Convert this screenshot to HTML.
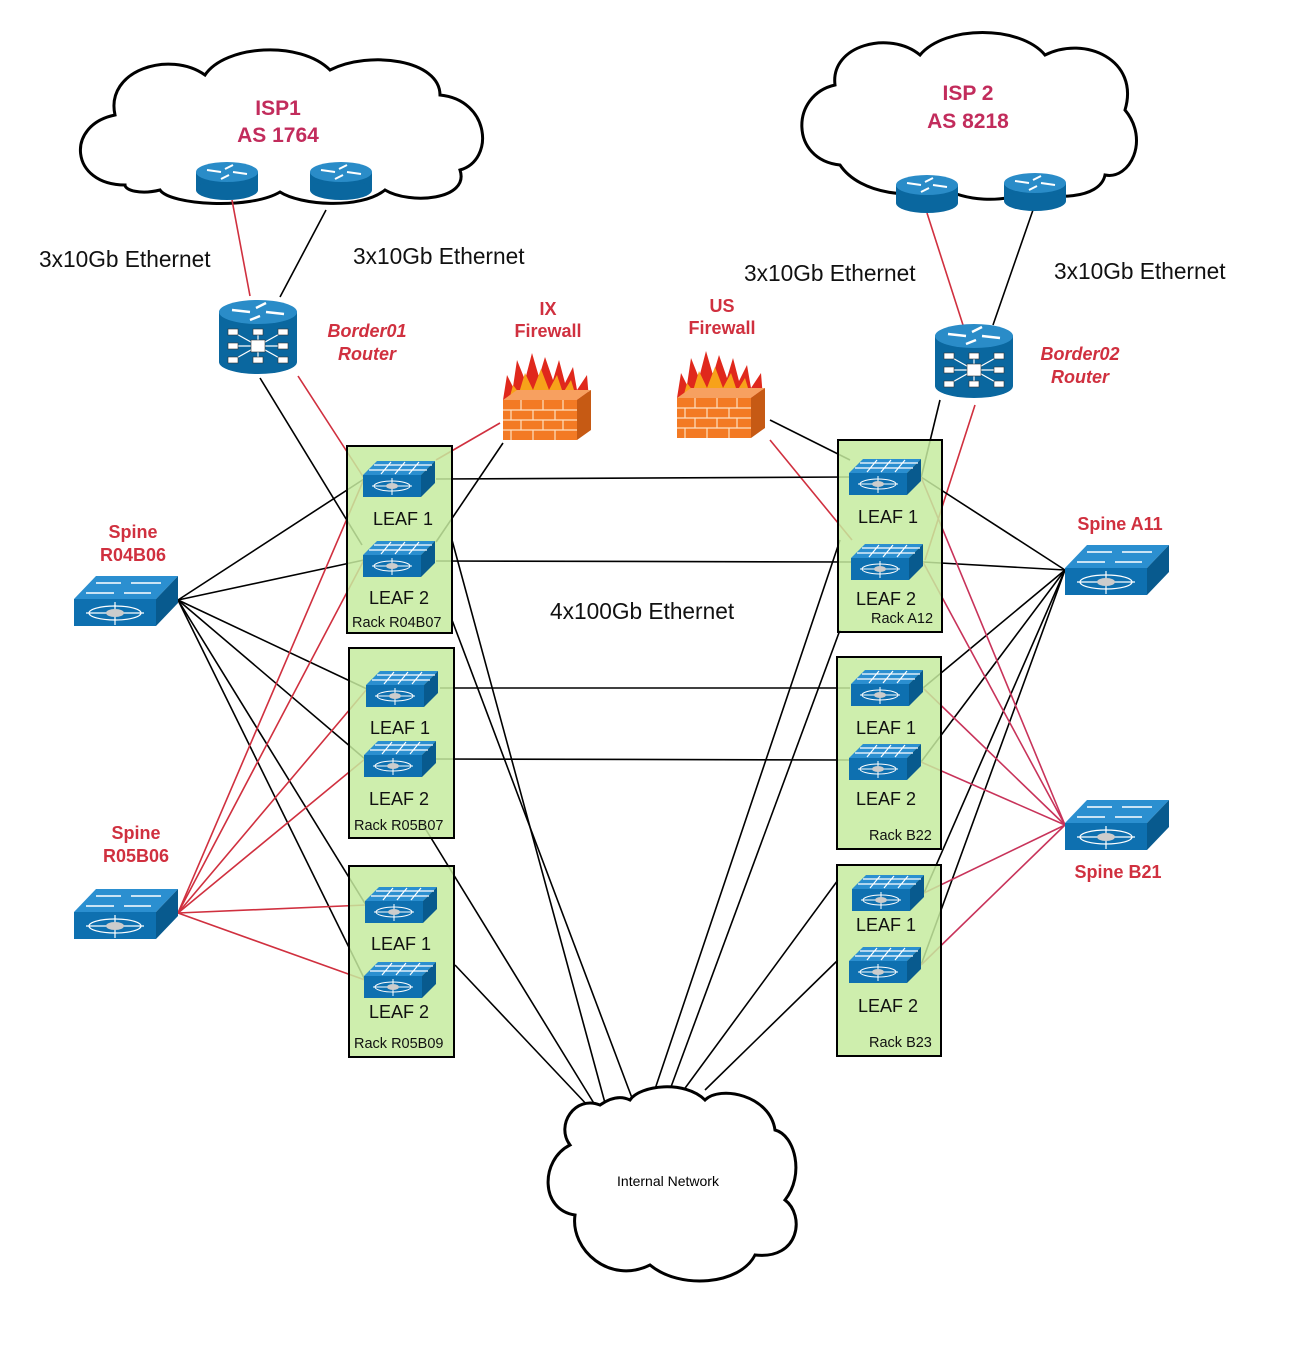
<!DOCTYPE html>
<html><head><meta charset="utf-8"><style>
html,body{margin:0;padding:0;background:#fff}
svg{display:block}
text{font-family:"Liberation Sans",sans-serif}
</style></head><body>
<svg width="1305" height="1350" viewBox="0 0 1305 1350" xmlns="http://www.w3.org/2000/svg">
<defs>
<g id="leaf">
<polygon points="-36,-4 -22,-18 36,-18 22,-4" fill="#2b8fd0"/>
<rect x="-36" y="-4" width="58" height="22" fill="#0e70b0"/>
<polygon points="22,-4 36,-18 36,4 22,18" fill="#085a8e"/>
<g stroke="#fff" stroke-width="1.2"><line x1="-30" y1="-9" x2="28" y2="-9"/><line x1="-25" y1="-14" x2="33" y2="-14"/><line x1="-18" y1="-5" x2="-8" y2="-17"/><line x1="-4" y1="-5" x2="6" y2="-17"/><line x1="10" y1="-5" x2="20" y2="-17"/></g>
<g stroke="#fff" stroke-width="1" fill="none"><ellipse cx="-7" cy="7" rx="18" ry="5"/><line x1="-27" y1="7" x2="13" y2="7"/><line x1="-7" y1="-1" x2="-7" y2="16"/></g>
<ellipse cx="-7" cy="7" rx="6" ry="3" fill="#ccc"/>
</g>
<g id="spine">
<polygon points="-52,-2 -30,-25 52,-25 30,-2" fill="#2b8fd0"/>
<rect x="-52" y="-2" width="82" height="27" fill="#0e70b0"/>
<polygon points="30,-2 52,-25 52,2 30,25" fill="#085a8e"/>
<g stroke="#fff" stroke-width="1.6"><line x1="-30" y1="-18" x2="-5" y2="-18"/><line x1="5" y1="-18" x2="35" y2="-18"/><line x1="-40" y1="-8" x2="-12" y2="-8"/><line x1="-2" y1="-8" x2="25" y2="-8"/></g>
<g stroke="#fff" stroke-width="1.2" fill="none"><ellipse cx="-11" cy="12" rx="26" ry="7"/><line x1="-40" y1="12" x2="18" y2="12"/><line x1="-11" y1="1" x2="-11" y2="24"/></g>
<ellipse cx="-11" cy="12" rx="9" ry="4" fill="#ccc"/>
</g>
<g id="rtr">
<rect x="-31" y="-8" width="62" height="18" fill="#0a679f"/>
<ellipse cx="0" cy="10" rx="31" ry="10" fill="#0a679f"/>
<ellipse cx="0" cy="-8" rx="31" ry="10" fill="#2a8cc8"/>
<g stroke="#fff" stroke-width="2"><line x1="-20" y1="-10" x2="-6" y2="-8"/><line x1="20" y1="-6" x2="6" y2="-8"/><line x1="6" y1="-15" x2="-2" y2="-11"/><line x1="-6" y1="-1" x2="2" y2="-5"/></g>
</g>
<g id="core">
<rect x="-39" y="-26" width="78" height="50" fill="#0a679f"/>
<ellipse cx="0" cy="24" rx="39" ry="12" fill="#0a679f"/>
<ellipse cx="0" cy="-26" rx="39" ry="12" fill="#2a8cc8"/>
<g stroke="#fff" stroke-width="2.4"><line x1="-26" y1="-28" x2="-8" y2="-26"/><line x1="26" y1="-24" x2="8" y2="-26"/><line x1="8" y1="-35" x2="-2" y2="-30"/><line x1="-8" y1="-18" x2="2" y2="-22"/></g>
<g stroke="#fff" stroke-width="1.2"><line x1="-25" y1="-6" x2="25" y2="22"/><line x1="-25" y1="22" x2="25" y2="-6"/><line x1="-25" y1="8" x2="25" y2="8"/><line x1="0" y1="-8" x2="0" y2="24"/></g>
<g fill="#fff" stroke="#333" stroke-width="0.6"><rect x="-30" y="-9" width="10" height="6"/><rect x="-5" y="-9" width="10" height="6"/><rect x="20" y="-9" width="10" height="6"/><rect x="-30" y="5" width="10" height="6"/><rect x="20" y="5" width="10" height="6"/><rect x="-30" y="19" width="10" height="6"/><rect x="-5" y="19" width="10" height="6"/><rect x="20" y="19" width="10" height="6"/><rect x="-7" y="2" width="14" height="12"/></g>
</g>
<g id="fw">
<path d="M-44,-5 L-40,-30 L-34,-18 L-30,-45 L-22,-25 L-15,-52 L-8,-28 L-2,-48 L6,-25 L12,-45 L18,-22 L26,-38 L30,-15 L40,-30 L42,-5 Z" fill="#e0281c"/>
<path d="M-38,-5 L-34,-20 L-28,-12 L-22,-32 L-14,-15 L-6,-36 L2,-15 L10,-30 L16,-12 L24,-25 L30,-5 Z" fill="#f7a21a"/>
<polygon points="-44,-5 -30,-15 44,-15 30,-5" fill="#f7a060"/>
<rect x="-44" y="-5" width="74" height="40" fill="#f37a24"/>
<polygon points="30,-5 44,-15 44,25 30,35" fill="#c65a14"/>
<g stroke="#fde0c0" stroke-width="1.2"><line x1="-44" y1="5" x2="30" y2="5"/><line x1="-44" y1="15" x2="30" y2="15"/><line x1="-44" y1="25" x2="30" y2="25"/><line x1="-26" y1="-5" x2="-26" y2="5"/><line x1="-4" y1="-5" x2="-4" y2="5"/><line x1="16" y1="-5" x2="16" y2="5"/><line x1="-36" y1="5" x2="-36" y2="15"/><line x1="-14" y1="5" x2="-14" y2="15"/><line x1="8" y1="5" x2="8" y2="15"/><line x1="-26" y1="15" x2="-26" y2="25"/><line x1="-4" y1="15" x2="-4" y2="25"/><line x1="16" y1="15" x2="16" y2="25"/><line x1="-36" y1="25" x2="-36" y2="35"/><line x1="-14" y1="25" x2="-14" y2="35"/><line x1="8" y1="25" x2="8" y2="35"/></g>
</g>
</defs>

<path d="M125,185 C70,185 65,125 115,115 C105,70 170,50 205,75 C225,45 300,40 330,70 C370,50 440,60 440,95 C490,100 495,160 460,170 C470,200 410,205 385,190 C360,210 300,205 280,192 C250,210 170,205 160,190 C140,195 125,190 125,185 Z" fill="#fff" stroke="#000" stroke-width="3"/>
<path d="M840,165 C790,160 790,95 835,85 C830,45 890,30 920,55 C945,25 1020,25 1045,55 C1085,35 1140,60 1125,110 C1150,140 1130,180 1105,175 C1100,200 1050,200 1030,190 C1005,205 960,200 945,188 C915,200 860,195 840,165 Z" fill="#fff" stroke="#000" stroke-width="3"/>

<g fill="none" stroke-width="1.6">
<line x1="232" y1="200" x2="250" y2="296" stroke="#d0303f"/>
<line x1="326" y1="210" x2="280" y2="297" stroke="#000"/>
<line x1="927" y1="213" x2="963" y2="325" stroke="#d0303f"/>
<line x1="1033" y1="210" x2="993" y2="325" stroke="#000"/>
<line x1="260" y1="378" x2="362" y2="545" stroke="#000"/>
<line x1="298" y1="376" x2="364" y2="478" stroke="#d0303f"/>
<line x1="940" y1="400" x2="921" y2="478" stroke="#000"/>
<line x1="975" y1="405" x2="925" y2="560" stroke="#d0303f"/>
<line x1="500" y1="423" x2="436" y2="460" stroke="#d0303f"/>
<line x1="503" y1="443" x2="436" y2="542" stroke="#000"/>
<line x1="770" y1="420" x2="850" y2="460" stroke="#000"/>
<line x1="770" y1="440" x2="852" y2="540" stroke="#d0303f"/>
<polyline points="436,479 850,477" stroke="#000"/>
<polyline points="436,561 852,562" stroke="#000"/>
<polyline points="440,688 850,688" stroke="#000"/>
<polyline points="436,759 849,760" stroke="#000"/>
<line x1="452" y1="540" x2="605" y2="1103" stroke="#000"/>
<line x1="452" y1="620" x2="632" y2="1098" stroke="#000"/>
<line x1="420" y1="820" x2="595" y2="1105" stroke="#000"/>
<line x1="455" y1="965" x2="590" y2="1108" stroke="#000"/>
<line x1="840" y1="540" x2="652" y2="1098" stroke="#000"/>
<line x1="840" y1="630" x2="668" y2="1095" stroke="#000"/>
<line x1="838" y1="880" x2="680" y2="1095" stroke="#000"/>
<line x1="838" y1="960" x2="705" y2="1090" stroke="#000"/>
<g stroke="#000">
<line x1="178" y1="600" x2="364" y2="479"/><line x1="178" y1="600" x2="364" y2="560"/>
<line x1="178" y1="600" x2="367" y2="689"/><line x1="178" y1="600" x2="365" y2="759"/>
<line x1="178" y1="600" x2="366" y2="905"/><line x1="178" y1="600" x2="365" y2="980"/>
</g>
<g stroke="#d0303f">
<line x1="178" y1="913" x2="364" y2="479"/><line x1="178" y1="913" x2="364" y2="560"/>
<line x1="178" y1="913" x2="367" y2="689"/><line x1="178" y1="913" x2="365" y2="759"/>
<line x1="178" y1="913" x2="366" y2="905"/><line x1="178" y1="913" x2="365" y2="980"/>
</g>
<g stroke="#000">
<line x1="1065" y1="570" x2="921" y2="477"/><line x1="1065" y1="570" x2="923" y2="562"/>
<line x1="1065" y1="570" x2="923" y2="688"/><line x1="1065" y1="570" x2="921" y2="762"/>
<line x1="1065" y1="570" x2="924" y2="893"/><line x1="1065" y1="570" x2="921" y2="965"/>
</g>
<g stroke="#c8335a">
<line x1="1065" y1="825" x2="921" y2="477"/><line x1="1065" y1="825" x2="923" y2="562"/>
<line x1="1065" y1="825" x2="923" y2="688"/><line x1="1065" y1="825" x2="921" y2="762"/>
<line x1="1065" y1="825" x2="924" y2="893"/><line x1="1065" y1="825" x2="921" y2="965"/>
</g>
</g>

<g fill="#c5eb9f" fill-opacity="0.85" stroke="#000" stroke-width="2">
<rect x="347" y="446" width="105" height="187"/>
<rect x="349" y="648" width="105" height="190"/>
<rect x="349" y="866" width="105" height="191"/>
<rect x="838" y="440" width="104" height="192"/>
<rect x="837" y="657" width="104" height="192"/>
<rect x="837" y="865" width="104" height="191"/>
</g>

<use href="#rtr" x="227" y="180"/><use href="#rtr" x="341" y="180"/>
<use href="#rtr" x="927" y="193"/><use href="#rtr" x="1035" y="191"/>
<use href="#core" x="258" y="338"/><use href="#core" x="974" y="362"/>
<use href="#fw" x="547" y="405"/><use href="#fw" x="721" y="403"/>
<use href="#leaf" x="399" y="479"/><use href="#leaf" x="399" y="559"/>
<use href="#leaf" x="402" y="689"/><use href="#leaf" x="400" y="759"/>
<use href="#leaf" x="401" y="905"/><use href="#leaf" x="400" y="980"/>
<use href="#leaf" x="885" y="477"/><use href="#leaf" x="887" y="562"/>
<use href="#leaf" x="887" y="688"/><use href="#leaf" x="885" y="762"/>
<use href="#leaf" x="888" y="893"/><use href="#leaf" x="885" y="965"/>
<use href="#spine" x="126" y="601"/><use href="#spine" x="126" y="914"/>
<use href="#spine" x="1117" y="570"/><use href="#spine" x="1117" y="825"/>

<path d="M600,1105 C575,1095 555,1125 570,1145 C540,1160 540,1210 575,1215 C570,1250 610,1285 650,1265 C680,1290 740,1285 755,1255 C800,1260 805,1215 785,1200 C805,1175 795,1135 775,1130 C770,1095 720,1085 705,1100 C685,1080 640,1085 630,1100 C620,1095 610,1098 600,1105 Z" fill="#fff" stroke="#000" stroke-width="3"/>
<text x="668" y="1186" font-size="14" text-anchor="middle">Internal Network</text>

<g font-weight="bold" fill="#c22c5c" font-size="21" text-anchor="middle">
<text x="278" y="115">ISP1</text><text x="278" y="142">AS 1764</text>
<text x="968" y="100">ISP 2</text><text x="968" y="128">AS 8218</text>
</g>
<g font-size="22.7" fill="#111">
<text x="39" y="267">3x10Gb Ethernet</text>
<text x="353" y="264">3x10Gb Ethernet</text>
<text x="744" y="281">3x10Gb Ethernet</text>
<text x="1054" y="279">3x10Gb Ethernet</text>
<text x="550" y="619">4x100Gb Ethernet</text>
</g>
<g font-weight="bold" font-style="italic" fill="#d0303f" font-size="18" text-anchor="middle">
<text x="367" y="337">Border01</text><text x="367" y="360">Router</text>
<text x="1080" y="360">Border02</text><text x="1080" y="383">Router</text>
</g>
<g font-weight="bold" fill="#d0303f" font-size="18" text-anchor="middle">
<text x="548" y="315">IX</text><text x="548" y="337">Firewall</text>
<text x="722" y="312">US</text><text x="722" y="334">Firewall</text>
<text x="133" y="538">Spine</text><text x="133" y="561">R04B06</text>
<text x="136" y="839">Spine</text><text x="136" y="862">R05B06</text>
<text x="1120" y="530">Spine A11</text>
<text x="1118" y="878">Spine B21</text>
</g>
<g font-size="18" fill="#111" text-anchor="middle">
<text x="403" y="525">LEAF 1</text><text x="399" y="604">LEAF 2</text>
<text x="400" y="734">LEAF 1</text><text x="399" y="805">LEAF 2</text>
<text x="401" y="950">LEAF 1</text><text x="399" y="1018">LEAF 2</text>
<text x="888" y="523">LEAF 1</text><text x="886" y="605">LEAF 2</text>
<text x="886" y="734">LEAF 1</text><text x="886" y="805">LEAF 2</text>
<text x="886" y="931">LEAF 1</text><text x="888" y="1012">LEAF 2</text>
</g>
<g font-size="14.5" fill="#111">
<text x="352" y="627">Rack R04B07</text>
<text x="354" y="830">Rack R05B07</text>
<text x="354" y="1048">Rack R05B09</text>
<text x="871" y="623">Rack A12</text>
<text x="869" y="840">Rack B22</text>
<text x="869" y="1047">Rack B23</text>
</g>
</svg>
</body></html>
